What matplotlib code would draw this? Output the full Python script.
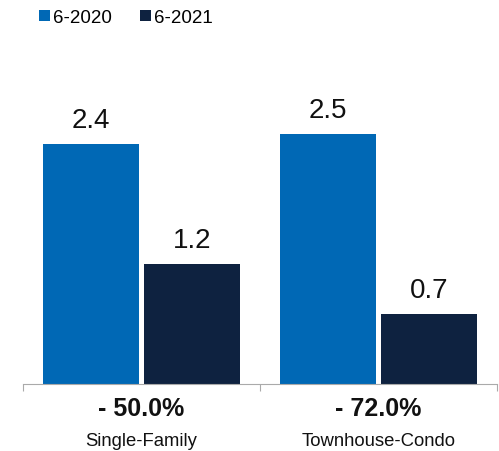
import numpy as np
import matplotlib.pyplot as plt
from matplotlib.transforms import blended_transform_factory

plt.rcParams['font.family'] = ['Liberation Sans', 'DejaVu Sans']

categories = ['Single-Family', 'Townhouse-Condo']
series_names = ['6-2020', '6-2021']
vals_2020 = [2.4, 2.5]
vals_2021 = [1.2, 0.7]
changes = ['- 50.0%', '- 72.0%']

BLUE = '#0068b5'
NAVY = '#0e2240'

fig = plt.figure(figsize=(4.99, 4.52), dpi=100)
ax = fig.add_axes([23 / 499, 67 / 452, 474 / 499, 345 / 452])

x = np.arange(len(categories))
w = 0.405
off = 0.213
b1 = ax.bar(x - off, vals_2020, w, color=BLUE, label=series_names[0])
b2 = ax.bar(x + off, vals_2021, w, color=NAVY, label=series_names[1])

for bars, vals in [(b1, vals_2020), (b2, vals_2021)]:
    for r, v in zip(bars, vals):
        ax.text(r.get_x() + r.get_width() / 2, v + 0.17, f'{v:.1f}',
                ha='center', va='baseline', fontsize=20, color='#111111')

ax.set_xlim(-0.5, 1.5)
ax.set_ylim(0, 3.45)
ax.set_yticks([])
ax.set_xticks([-0.5, 0.5, 1.5])
ax.set_xticklabels([])
ax.tick_params(axis='x', length=5, width=0.8, color='#aaaaaa')
for s in ['top', 'right', 'left']:
    ax.spines[s].set_visible(False)
ax.spines['bottom'].set_color('#aaaaaa')
ax.spines['bottom'].set_linewidth(0.8)

tr = blended_transform_factory(ax.transData, fig.transFigure)
for i in range(len(categories)):
    ax.text(x[i], 1 - 416 / 452, changes[i], transform=tr, ha='center',
            va='baseline', fontsize=18, fontweight='bold', color='#111111')
    ax.text(x[i], 1 - 446 / 452, categories[i], transform=tr, ha='center',
            va='baseline', fontsize=13.3, color='#111111')

fig.legend(loc='upper left', bbox_to_anchor=(29 / 499, 1.0), ncol=2,
           frameon=False, fontsize=13.5, handlelength=0.55, handleheight=0.55,
           handletextpad=0.2, columnspacing=1.5, borderaxespad=0.15)

fig.savefig('out.png', dpi=100)
